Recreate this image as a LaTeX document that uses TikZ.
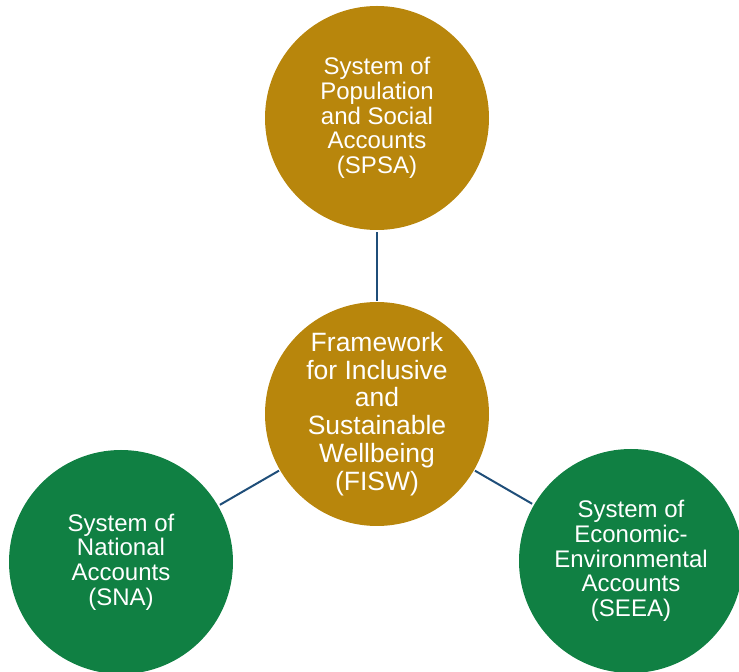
\documentclass[tikz,border=0pt]{standalone}
\usepackage{fontspec}
\setmainfont{Liberation Sans}
\usepackage{tikz}
\usetikzlibrary{arrows.meta, positioning, calc}

\definecolor{goldfill}{RGB}{184,134,12}
\definecolor{greenfill}{RGB}{16,128,67}
\definecolor{linkblue}{RGB}{31,78,121}

\begin{document}
\begin{tikzpicture}[
    x=1pt, y=1pt,
    disc/.style={circle, draw=none, minimum size=224pt, inner sep=0pt, text=white, align=center,
                 font=\fontsize{24}{24.6}\selectfont}, % 圆形节点
    gold/.style={disc, fill=goldfill},   % 金色圆
    green/.style={disc, fill=greenfill}, % 绿色圆
    hub/.style={gold, font=\fontsize{26.5}{27.8}\selectfont}, % 中心圆
    link/.style={linkblue, line width=2pt, shorten <=2pt, shorten >=1pt} % 连线
]
    % 0. 画布范围
    \useasboundingbox (0,0) rectangle (739,672);
    \clip (0,0) rectangle (739,672);

    % 1. 四个圆
    \node[hub]   (fisw) at (377,258) {Framework\\for Inclusive\\and\\Sustainable\\Wellbeing\\(FISW)};
    \node[gold]  (spsa) at (377,554) {System of\\Population\\and Social\\Accounts\\(SPSA)};
    \node[green] (sna)  at (121,110) {System of\\National\\Accounts\\(SNA)};
    \node[green] (seea) at (631,111) {System of\\Economic-\\Environmental\\Accounts\\(SEEA)};

    % 2. 连线
    \draw[link] (spsa) -- (fisw);
    \draw[link] (sna) -- (fisw);
    \draw[link] (seea) -- (fisw);
\end{tikzpicture}
\end{document}
